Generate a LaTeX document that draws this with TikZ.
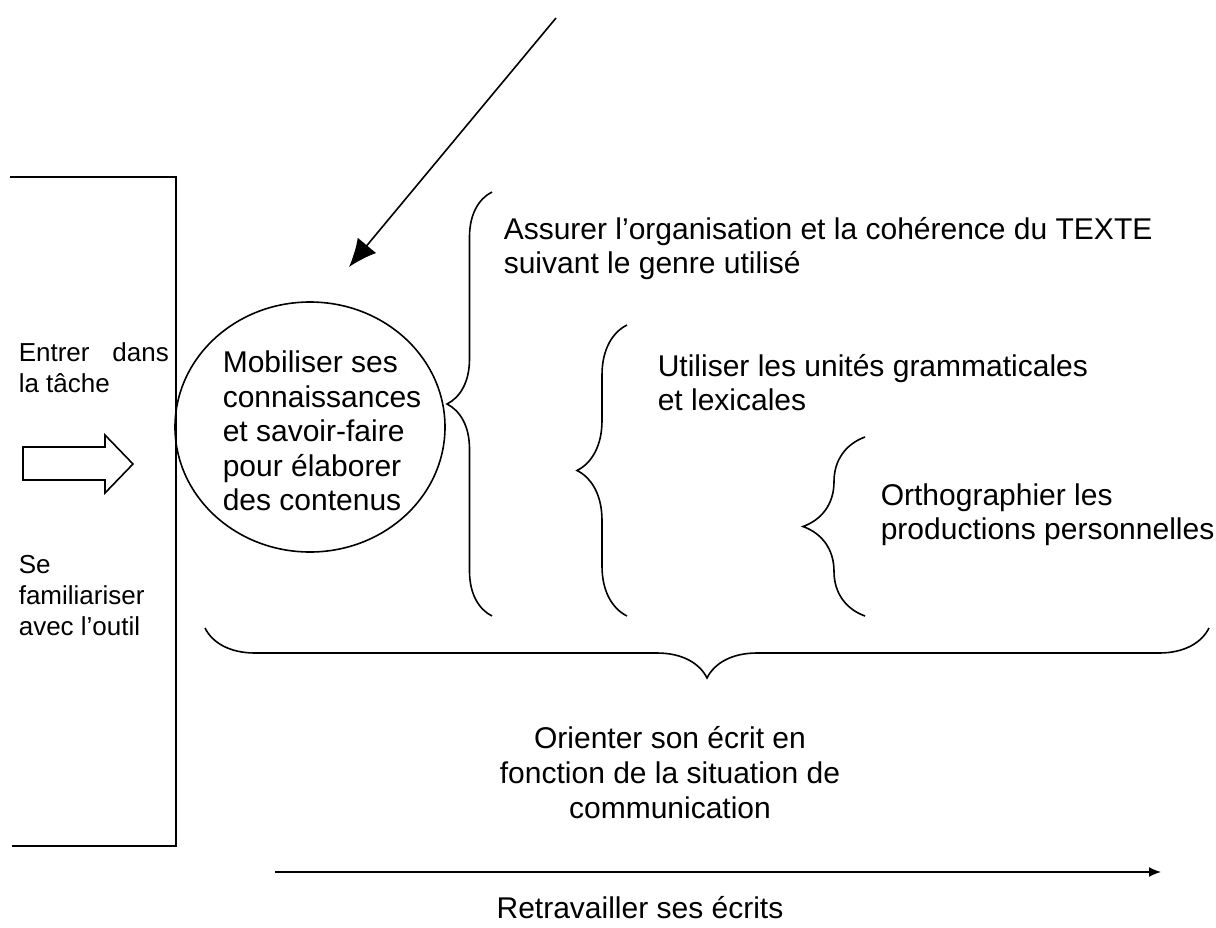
\documentclass[tikz,border=0pt]{standalone}
\usepackage{fontspec}
\setmainfont{Liberation Sans}
\usetikzlibrary{arrows.meta,decorations.pathreplacing,shapes.geometric}

\begin{document}
\begin{tikzpicture}[x=0.5pt,y=-0.5pt,line width=0.8pt,
  txt/.style={inner sep=0pt,align=left,font=\fontsize{15}{17}\selectfont},
  lefttxt/.style={inner sep=0pt,align=left,font=\fontsize{13}{15.5}\selectfont},
  accolade/.style={decorate,decoration={brace,amplitude=#1}}]
\useasboundingbox (0,0) rectangle (1216,927);
% cadre de gauche
\draw (10,177) -- (176,177) -- (176,846) -- (12,846);
\node[lefttxt,anchor=west] (entrer) at (18,368) {\makebox[75pt][s]{Entrer dans}\\la tâche};
\node[lefttxt,anchor=west] (famil) at (18,596) {Se\\familiariser\\avec l’outil};
% grosse fleche
\draw (23,447) -- (105,447) -- (105,435) -- (133,464) -- (105,493) -- (105,480) -- (23,480) -- cycle;
% cercle
\node[draw,ellipse,minimum width=135pt,minimum height=125pt] (mob) at (310,427) {};
\node[txt,anchor=west,font=\fontsize{15}{17.3}\selectfont] (mobtxt) at (222,431) {Mobiliser ses\\connaissances\\et savoir-faire\\pour élaborer\\des contenus};
\coordinate (debut) at (556,18);
\coordinate (fin) at (349,267);
\draw[-{Latex[length=14pt,width=12pt]}] (debut) -- (fin);
% accolades
\draw[accolade=22.5pt] (492,616) -- (492,192);
\node[txt,anchor=west] (assurer) at (503,249) {Assurer l’organisation et la cohérence du TEXTE\\suivant le genre utilisé};
\draw[accolade=25pt] (627,616) -- (627,325);
\node[txt,anchor=west] (utiliser) at (657,383) {Utiliser les unités grammaticales\\et lexicales};
\draw[accolade=31pt] (865,616) -- (865,437);
\node[txt,anchor=west] (ortho) at (880,515) {Orthographier les\\productions personnelles};
\draw[accolade=25pt] (1209,628) -- (205,628);
\node[txt,align=center,font=\fontsize{15}{17.5}\selectfont] (orienter) at (670,773) {Orienter son écrit en\\fonction de la situation de\\communication};
% retravailler
\coordinate (rdeb) at (275,872);
\coordinate (rfin) at (1161,872);
\draw[-{Latex[length=6pt,width=5pt]}] (rdeb) -- (rfin);
\node[txt] (retrav) at (640,908) {Retravailler ses écrits};
\end{tikzpicture}
\end{document}
